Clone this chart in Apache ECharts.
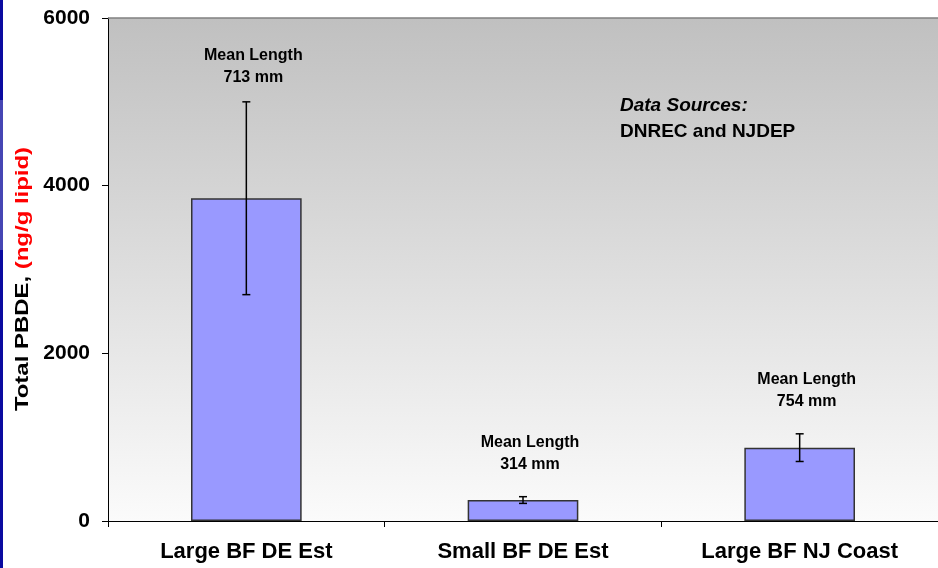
<!DOCTYPE html>
<html><head><meta charset="utf-8">
<script src="https://cdn.jsdelivr.net/npm/echarts@6/dist/echarts.min.js"></script>
<style>html,body{margin:0;padding:0;background:#fff}#c{width:938px;height:568px}</style>
</head><body><div id="c"></div>
<script>
const categories = ['Large BF DE Est', 'Small BF DE Est', 'Large BF NJ Coast'];
const means = [3850, 250, 875];
const errLow = [2700, 210, 710];
const errHigh = [5000, 290, 1040];
const lengthLabels = ['Mean Length\n713 mm', 'Mean Length\n314 mm', 'Mean Length\n754 mm'];
const lengthLabelAt = [5420, 810, 1550];
const yTicks = [0, 2000, 4000, 6000];

const FONT = 'Liberation Sans, Arial, sans-serif';
const chart = echarts.init(document.getElementById('c'), null, {renderer: 'canvas'});
const option = {
  animation: false,
  backgroundColor: '#ffffff',
  grid: {left: 108, right: 0, top: 18, bottom: 47, show: true,
    backgroundColor: {type: 'linear', x: 0, y: 0, x2: 0, y2: 1,
      colorStops: [{offset: 0, color: '#c0c0c0'}, {offset: 1, color: '#fbfbfb'}]},
    borderWidth: 0},
  xAxis: {type: 'category', data: categories,
    axisLine: {lineStyle: {color: '#000', width: 1}},
    axisTick: {show: true, length: 6, lineStyle: {color: '#000'}},
    axisLabel: {fontFamily: FONT, fontWeight: 'bold', fontSize: 22, color: '#000', margin: 20}
  },
  yAxis: {type: 'value', min: yTicks[0], max: yTicks[yTicks.length - 1], interval: 2000,
    axisLine: {show: true, lineStyle: {color: '#000', width: 1}},
    axisTick: {show: true, length: 6, lineStyle: {color: '#000'}},
    splitLine: {show: false},
    axisLabel: {fontFamily: FONT, fontWeight: 'bold', fontSize: 21, color: '#000', margin: 18,
      formatter: v => String(v)}
  },
  series: [
    {type: 'bar', data: means, barWidth: '40%',
      itemStyle: {color: '#9999ff', borderColor: '#333333', borderWidth: 1.5}},
    {type: 'custom',
      data: categories.map((c, i) => [i, errLow[i], errHigh[i]]),
      renderItem: function (params, api) {
        const lo = api.coord([api.value(0), api.value(1)]);
        const hi = api.coord([api.value(0), api.value(2)]);
        const w = 4;
        const st = {stroke: '#000', lineWidth: 1.5};
        return {type: 'group', children: [
          {type: 'line', shape: {x1: hi[0], y1: hi[1], x2: lo[0], y2: lo[1]}, style: st},
          {type: 'line', shape: {x1: hi[0] - w, y1: hi[1], x2: hi[0] + w, y2: hi[1]}, style: st},
          {type: 'line', shape: {x1: lo[0] - w, y1: lo[1], x2: lo[0] + w, y2: lo[1]}, style: st}
        ]};
      }, z: 5},
    {type: 'custom',
      data: categories.map((c, i) => [i, lengthLabelAt[i]]),
      renderItem: function (params, api) {
        const p = api.coord([api.value(0), api.value(1)]);
        return {type: 'text', x: p[0] + 7, y: p[1],
          style: {text: lengthLabels[params.dataIndex], fontFamily: FONT, fontWeight: 'bold',
            fontSize: 16, lineHeight: 22, fill: '#000', align: 'center', verticalAlign: 'middle'}};
      }, z: 6}
  ],
  graphic: [
    {type: 'rect', left: 0, top: 0, shape: {width: 3, height: 568}, style: {fill: '#0a0aa0'}, z: 10},
    {type: 'rect', left: 0, top: 100, shape: {width: 3, height: 150}, style: {fill: '#4646b4'}, z: 11},
    {type: 'line', shape: {x1: 108, y1: 18, x2: 938, y2: 18}, style: {stroke: '#808080', lineWidth: 1.5}, z: 10},
    {type: 'text', x: 23, y: 279, rotation: Math.PI / 2, scaleX: 1.26,
      style: {text: '{a|Total PBDE, }{b|(ng/g lipid)}', align: 'center', verticalAlign: 'middle',
        rich: {a: {fontFamily: FONT, fontWeight: 'bold', fontSize: 19, fill: '#000'},
               b: {fontFamily: FONT, fontWeight: 'bold', fontSize: 19, fill: '#ff0000'}}}, z: 10},
    {type: 'text', left: 620, top: 96, style: {text: 'Data Sources:', fontFamily: FONT, fontWeight: 'bold', fontStyle: 'italic', fontSize: 19, fill: '#000'}},
    {type: 'text', left: 620, top: 122, style: {text: 'DNREC and NJDEP', fontFamily: FONT, fontWeight: 'bold', fontSize: 19, fill: '#000'}}
  ]
};
chart.setOption(option);
</script></body></html>
